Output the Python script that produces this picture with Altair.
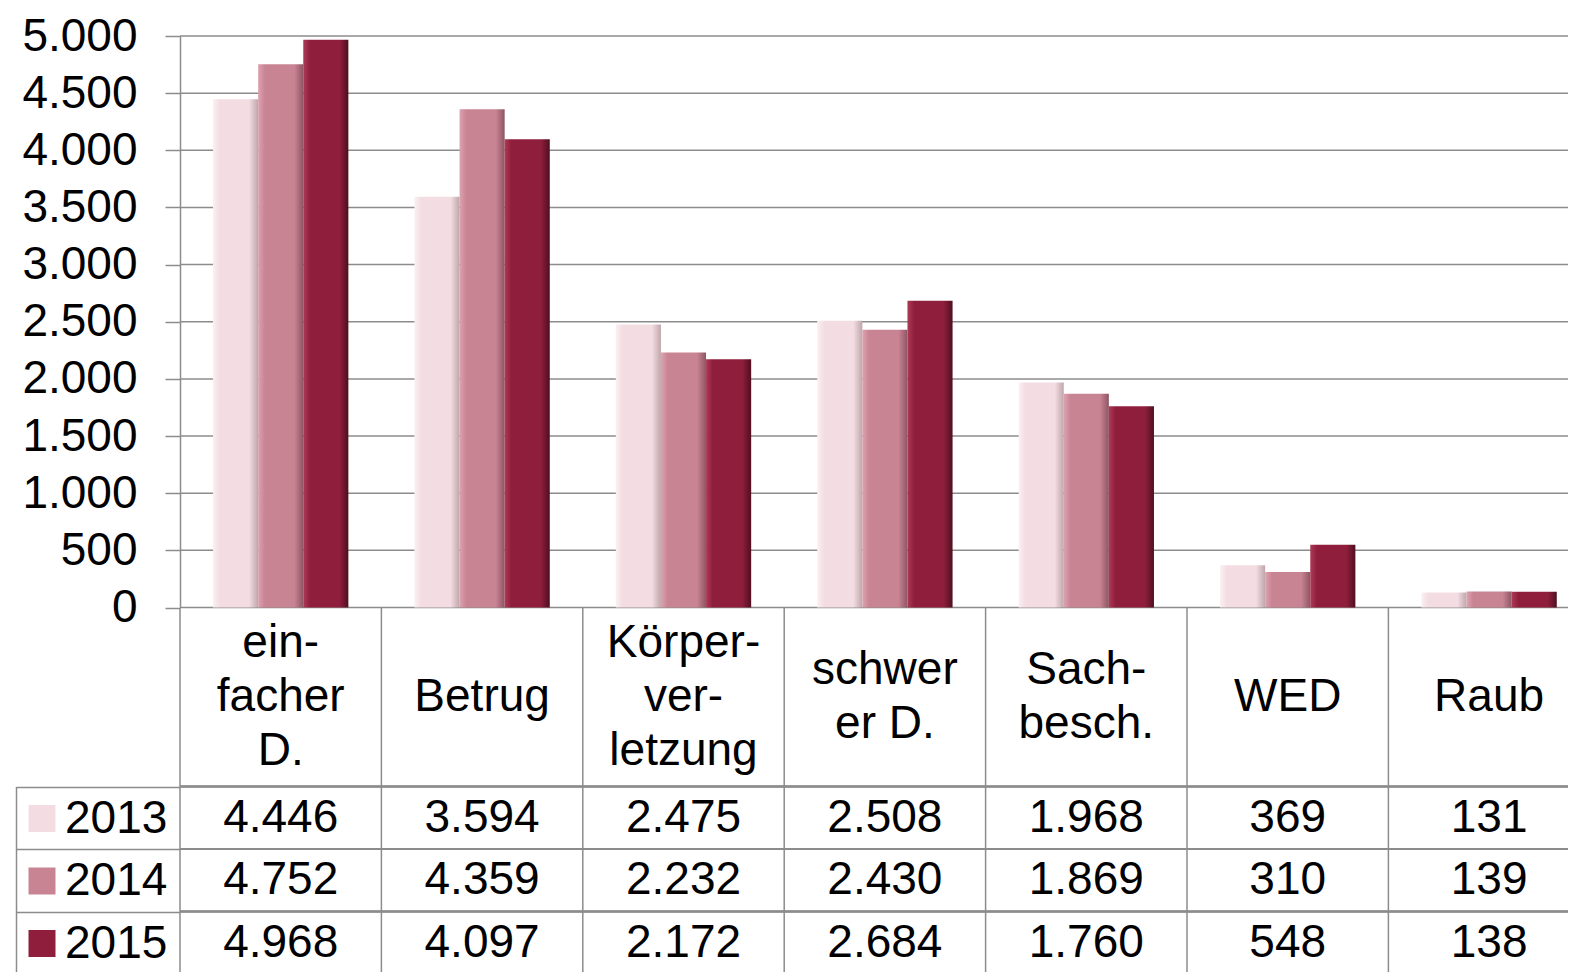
import altair as alt
import pandas as pd

categories = ["ein-|facher|D.", "Betrug", "Körper-|ver-|letzung", "schwer|er D.",
              "Sach-|besch.", "WED", "Raub"]
years = ["2013", "2014", "2015"]
values_2013 = [4446, 3594, 2475, 2508, 1968, 369, 131]
values_2014 = [4752, 4359, 2232, 2430, 1869, 310, 139]
values_2015 = [4968, 4097, 2172, 2684, 1760, 548, 138]
colors = ["#f3dde2", "#c98494", "#8f1e3c"]
colors_light = ["#fbf0f2", "#dda3b0", "#ad3a57"]
colors_dark = ["#bfa6ab", "#8e5563", "#4f0f20"]
y_ticks = [0, 500, 1000, 1500, 2000, 2500, 3000, 3500, 4000, 4500, 5000]

rows = []
for yr, vals in zip(years, [values_2013, values_2014, values_2015]):
    for c, v in zip(categories, vals):
        rows.append({"cat": c, "year": yr, "value": v})
df = pd.DataFrame(rows)
df_ticks = pd.DataFrame({"value": y_ticks})
df_head = pd.DataFrame({"cat": categories, "row": ["head"] * len(categories)})

FONT = "Liberation Sans"
FS = 46
GRID = "#8c8c8c"
STEP = 201.4
NCAT = len(categories)
FULL = STEP * NCAT
W = 1388
PI = 0.328
HEAD = 178.5
ROW = 62.5
TABLE_H = HEAD + ROW * len(years)
DE_FMT = "replace(format(datum.value, ','), ',', '.')"


def grad(light, main, dark):
    return ("{gradient: 'linear', x1: 0, y1: 0, x2: 1, y2: 0, stops: ["
            f"{{offset: 0, color: '{light}'}}, {{offset: 0.15, color: '{main}'}}, "
            f"{{offset: 0.8, color: '{main}'}}, {{offset: 1, color: '{dark}'}}]}}")


g = [grad(l, m, d) for l, m, d in zip(colors_light, colors, colors_dark)]
FILL_EXPR = f"datum.year == '{years[0]}' ? {g[0]} : datum.year == '{years[1]}' ? {g[1]} : {g[2]}"

color_scale = alt.Scale(domain=years, range=colors)
yscale = alt.Scale(domain=[0, 5000], nice=False)
y_axis = alt.Axis(values=y_ticks, labelExpr=DE_FMT, labelFont=FONT, labelFontSize=FS,
                  labelColor="black", labelPadding=28, tickSize=15, tickColor=GRID,
                  tickWidth=1.5, domain=True, domainColor=GRID, domainWidth=1.5, grid=False,
                  labelBaseline="middle")

# ---------------- bar chart ----------------
grid_rules = alt.Chart(df_ticks).mark_rule(color=GRID, strokeWidth=1.5).encode(
    y=alt.Y("value:Q", scale=yscale, title=None, axis=y_axis),
)

bar_marks = alt.Chart(df).mark_bar(fill=alt.expr(FILL_EXPR)).encode(
    x=alt.X("cat:N", scale=alt.Scale(domain=categories, range=[0, FULL], paddingInner=PI,
                                     paddingOuter=PI / 2), title=None, axis=None),
    xOffset=alt.XOffset("year:N", scale=alt.Scale(domain=years, paddingInner=0, paddingOuter=0)),
    y=alt.Y("value:Q", scale=yscale, title=None, axis=y_axis),
)

bars = alt.layer(grid_rules, bar_marks).properties(width=W, height=571.5)

# ---------------- data table ----------------
cell_x = alt.Scale(domain=categories, range=[0, FULL], paddingInner=0, paddingOuter=0)
edge_x = alt.Scale(type="point", domain=categories, range=[0, STEP * (NCAT - 1)], padding=0)

# column borders through header and rows
col_rules = alt.Chart(df_head).mark_rule(color=GRID, strokeWidth=1.5).encode(
    x=alt.X("cat:N", scale=edge_x, title=None, axis=None),
)

# row borders across the full width
row_rules = alt.Chart(df).mark_rule(color=GRID, strokeWidth=1.5).encode(
    y=alt.Y("year:N", scale=alt.Scale(type="point", domain=years,
                                      range=[HEAD, HEAD + ROW * (len(years) - 1)], padding=0),
            title=None, axis=None),
)

# category names, multi-line, centred in the header row
head_text = alt.Chart(df_head).mark_text(
    font=FONT, fontSize=FS, baseline="middle", align="center", color="black",
    lineBreak="|", lineHeight=54,
    dy=alt.expr("-(length(split(datum.cat, '|')) - 1) * 27"),
).encode(
    x=alt.X("cat:N", scale=cell_x, title=None, axis=None),
    y=alt.Y("row:N", scale=alt.Scale(domain=["head"], range=[0, HEAD], paddingInner=0,
                                     paddingOuter=0), title=None, axis=None),
    text="cat:N",
)

# value texts, and the left border of the year column
values_layer = alt.Chart(df).transform_calculate(
    label=DE_FMT
).mark_text(font=FONT, fontSize=FS, baseline="middle", align="center", color="black").encode(
    x=alt.X("cat:N", scale=cell_x, title=None, axis=None),
    y=alt.Y("year:N", scale=alt.Scale(domain=years, range=[HEAD, TABLE_H], paddingInner=0,
                                      paddingOuter=0),
            title=None, axis=alt.Axis(orient="left", offset=164, labels=False, ticks=False,
                                      grid=False, domain=True, domainColor=GRID,
                                      domainWidth=1.5)),
    text="label:N",
)

# row borders of the year column and the year legend
edges_y = years + ["end"]
legend_layer = alt.Chart(df).mark_square(opacity=0).encode(
    y=alt.Y("year:N", scale=alt.Scale(type="point", domain=edges_y, range=[HEAD, TABLE_H],
                                      padding=0),
            title=None, axis=alt.Axis(orient="left", labels=False, ticks=True, tickSize=164,
                                      tickColor=GRID, tickWidth=1.5, grid=False, domain=False,
                                      tickOpacity={"condition": {"test": "datum.value == 'end'",
                                                                 "value": 0}, "value": 1})),
    color=alt.Color("year:N", scale=color_scale, legend=alt.Legend(
        orient="none", legendX=-161, legendY=HEAD + 9, direction="vertical",
        symbolType="square", symbolSize=729, symbolOpacity=1, symbolStrokeWidth=0,
        labelFont=FONT, labelFontSize=FS, labelColor="black", labelOffset=0,
        rowPadding=ROW - FS, title=None, padding=0, labelLimit=300)),
)

table = alt.layer(col_rules, row_rules, head_text, values_layer, legend_layer).resolve_scale(
    x="independent", y="independent").properties(width=W, height=TABLE_H)

chart = alt.vconcat(bars, table, spacing=0, bounds="flush").resolve_scale(
    x="independent", y="independent", color="independent"
).properties(
    padding={"left": 7, "top": 5, "right": 0, "bottom": 0}
).configure_view(stroke=None)

chart.save("out.html", embed_options={"renderer": "svg", "actions": False})
